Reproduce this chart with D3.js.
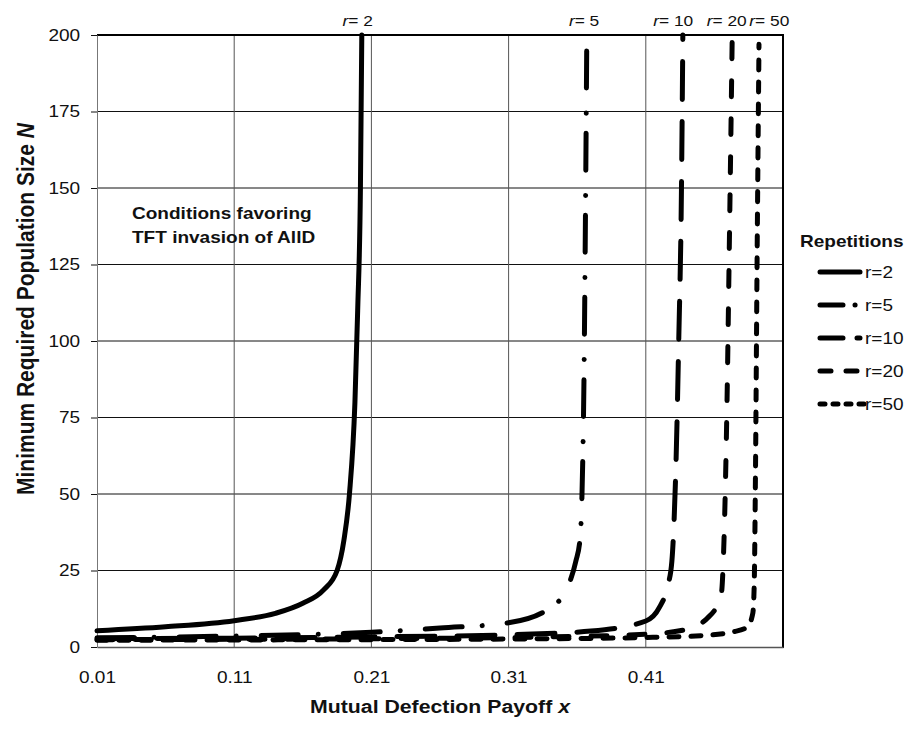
<!DOCTYPE html>
<html>
<head>
<meta charset="utf-8">
<script src="https://cdn.jsdelivr.net/npm/d3@7"></script>
<style>
  body { margin: 0; background: #fff; }
  svg { display: block; font-family: "Liberation Sans", Arial, sans-serif; }
</style>
</head>
<body>
<div id="chart"></div>
<script>
// values: payoff x  ->  minimum population size N
const seriesNames = ["r=2", "r=5", "r=10", "r=20", "r=50"];
const topLabels = ["2", "5", "10", "20", "50"];
const topLabelPayoff = [0.2, 0.365, 0.43, 0.469, 0.5];

const payoffR2 = [0.01, 0.06, 0.11, 0.14, 0.16, 0.175, 0.185, 0.19, 0.194, 0.198, 0.2, 0.202, 0.203];
const sizeR2   = [5.3, 6.6, 8.6, 11, 14.3, 18.6, 25, 35, 50, 80, 110, 150, 200];

const payoffR5 = [0.01, 0.11, 0.21, 0.26, 0.31, 0.34, 0.353, 0.359, 0.362, 0.3635, 0.365, 0.366, 0.367];
const sizeR5   = [3.0, 3.6, 4.8, 6.2, 7.9, 12.7, 19.6, 28, 35, 50, 90, 140, 200];

const payoffR10 = [0.01, 0.11, 0.21, 0.31, 0.37, 0.41, 0.42, 0.426, 0.429, 0.4305, 0.432, 0.434, 0.436, 0.437];
const sizeR10   = [2.7, 2.9, 3.3, 4.0, 5.2, 8.5, 13, 20, 28, 40, 60, 100, 150, 200];

const payoffR20 = [0.01, 0.11, 0.21, 0.31, 0.41, 0.44, 0.455, 0.462, 0.465, 0.467, 0.469, 0.471, 0.473];
const sizeR20   = [2.4, 2.5, 2.7, 3.1, 4.2, 5.8, 9.5, 13.5, 17, 35, 75, 135, 200];

const payoffR50 = [0.01, 0.11, 0.21, 0.31, 0.41, 0.45, 0.474, 0.484, 0.488, 0.489, 0.49, 0.491, 0.4925];
const sizeR50   = [2.2, 2.3, 2.4, 2.6, 3.1, 3.7, 5, 6.5, 11, 20, 60, 120, 197];

const xTicks = [0.01, 0.11, 0.21, 0.31, 0.41];
const yTicks = [0, 25, 50, 75, 100, 125, 150, 175, 200];

// line styles (dash patterns, round caps)
const dashes = [null, "37,20,0.1,25", "38,22", "16,22", "10,12"];
const legendDashes = [null, "23,12,0.1,100", "23,14,3,100", "11,15,11,100", "5,8"];

const SX = 1.12; // text in the figure is a little wide

function zipSeries(px, py) {
    let m = [];
    for (let i = 0; i < px.length; i++) m.push({x: px[i], n: py[i]});
    return m;
}
const series = [
    zipSeries(payoffR2, sizeR2),
    zipSeries(payoffR5, sizeR5),
    zipSeries(payoffR10, sizeR10),
    zipSeries(payoffR20, sizeR20),
    zipSeries(payoffR50, sizeR50)
];

let margin = {top: 35, right: 128, bottom: 82, left: 97},
    width = 911 - margin.left - margin.right,
    height = 729 - margin.top - margin.bottom;

let root = d3.select("#chart")
  .append("svg")
    .attr("width", 911)
    .attr("height", 729);

let svg = root.append("g")
    .attr("transform", "translate(" + margin.left + "," + margin.top + ")");

let x = d3.scaleLinear().domain([0.01, 0.51]).range([0, width]);
let y = d3.scaleLinear().domain([0, 200]).range([height, 0]);

// horizontal grid (black)
svg.append("g")
  .selectAll("line")
  .data(yTicks.filter(d => d > 0 && d < 200))
  .enter().append("line")
    .attr("x1", 0).attr("x2", width)
    .attr("y1", d => y(d)).attr("y2", d => y(d))
    .attr("stroke", "#111").attr("stroke-width", 1);

// vertical grid (grey)
svg.append("g")
  .selectAll("line")
  .data(xTicks.slice(1))
  .enter().append("line")
    .attr("x1", d => x(d)).attr("x2", d => x(d))
    .attr("y1", 0).attr("y2", height)
    .attr("stroke", "#555").attr("stroke-width", 1);

// plot frame top + right
svg.append("line")
    .attr("x1", 0).attr("x2", width + 1)
    .attr("y1", y(200)).attr("y2", y(200))
    .attr("stroke", "#000").attr("stroke-width", 2);
svg.append("line")
    .attr("x1", x(0.51)).attr("x2", x(0.51))
    .attr("y1", 0).attr("y2", height + 1)
    .attr("stroke", "#000").attr("stroke-width", 2);

// y axis
let yAxis = svg.append("g")
    .call(d3.axisLeft(y).tickValues(yTicks).tickSize(6).tickSizeOuter(0).tickPadding(9));
yAxis.attr("font-size", 17).attr("font-family", "Liberation Sans, Arial, sans-serif");
yAxis.select(".domain").attr("stroke", "#777");
yAxis.selectAll(".tick line").attr("stroke", "#111");
yAxis.selectAll("text").attr("fill", "#111").attr("transform", "scale(" + SX + ",1)");

// x axis
let xAxis = svg.append("g")
    .attr("transform", "translate(0," + height + ")")
    .call(d3.axisBottom(x).tickValues(xTicks).tickSize(0).tickSizeOuter(0)
        .tickPadding(24).tickFormat(d3.format(".2f")));
xAxis.attr("font-size", 17).attr("font-family", "Liberation Sans, Arial, sans-serif");
xAxis.select(".domain").attr("stroke", "#555").attr("stroke-width", 1.5);
xAxis.selectAll("text").attr("fill", "#111").attr("transform", "scale(" + SX + ",1)");

// curves
let line = d3.line()
    .x(d => x(d.x))
    .y(d => y(d.n))
    .curve(d3.curveMonotoneX);

svg.append("g")
  .selectAll("path")
  .data(series)
  .enter().append("path")
    .attr("d", line)
    .attr("fill", "none")
    .attr("stroke", "#000")
    .attr("stroke-width", 5)
    .attr("stroke-linecap", "round")
    .attr("stroke-linejoin", "round")
    .attr("stroke-dasharray", (d, i) => dashes[i]);

// r labels above the plot
let tl = svg.append("g")
  .selectAll("text")
  .data(topLabels)
  .enter().append("text")
    .attr("transform", (d, i) => "translate(" + x(topLabelPayoff[i]) + ",-9) scale(" + SX + ",1)")
    .attr("text-anchor", "middle")
    .attr("font-size", 15.5)
    .attr("fill", "#111");
tl.append("tspan").attr("font-style", "italic").text("r");
tl.append("tspan").text(d => "= " + d);

// annotation
let note = svg.append("text")
    .attr("transform", "translate(" + (132 - margin.left) + "," + (219 - margin.top) + ") scale(" + SX + ",1)")
    .attr("font-size", 17)
    .attr("font-weight", "bold")
    .attr("fill", "#111");
note.append("tspan").attr("x", 0).attr("dy", 0).text("Conditions favoring");
note.append("tspan").attr("x", 0).attr("dy", 24).text("TFT invasion of AllD");

// axis titles
let xt = root.append("text")
    .attr("transform", "translate(" + (margin.left + width / 2) + ",713) scale(" + SX + ",1)")
    .attr("text-anchor", "middle")
    .attr("font-size", 19)
    .attr("font-weight", "bold")
    .attr("fill", "#111");
xt.append("tspan").text("Mutual Defection Payoff ");
xt.append("tspan").attr("font-style", "italic").text("x");

let yt = root.append("text")
    .attr("transform", "translate(34,309) scale(" + SX + ",1) rotate(-90)")
    .attr("text-anchor", "middle")
    .attr("font-size", 21)
    .attr("font-weight", "bold")
    .attr("fill", "#111");
yt.append("tspan").text("Minimum Required Population Size ");
yt.append("tspan").attr("font-style", "italic").text("N");

// legend
let legend = root.append("g");
legend.append("text")
    .attr("transform", "translate(800,247) scale(" + SX + ",1)")
    .attr("font-size", 17)
    .attr("font-weight", "bold")
    .attr("fill", "#111")
    .text("Repetitions");

let rows = legend.selectAll("g.row")
  .data(seriesNames)
  .enter().append("g")
    .attr("class", "row")
    .attr("transform", (d, i) => "translate(0," + (272 + i * 33) + ")");
rows.append("line")
    .attr("x1", 820).attr("x2", (d, i) => i == 4 ? 864 : 860)
    .attr("y1", 0).attr("y2", 0)
    .attr("stroke", "#000")
    .attr("stroke-width", 5)
    .attr("stroke-linecap", "round")
    .attr("stroke-dasharray", (d, i) => legendDashes[i]);
rows.append("text")
    .attr("transform", "translate(865,6) scale(" + SX + ",1)")
    .attr("font-size", 17)
    .attr("fill", "#111")
    .text(d => d);
</script>
</body>
</html>
